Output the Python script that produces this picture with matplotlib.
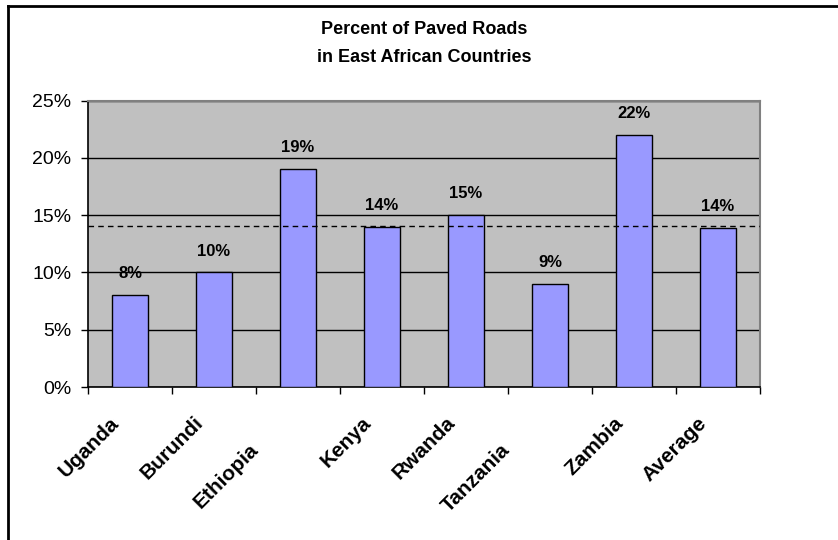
import matplotlib
matplotlib.use('Agg')
import matplotlib.pyplot as plt
import matplotlib.transforms as mtransforms
from matplotlib.lines import Line2D
from matplotlib.ticker import FuncFormatter, MultipleLocator
import numpy as np

plt.rcParams['font.family'] = ['Liberation Sans', 'DejaVu Sans']

countries = ['Uganda', 'Burundi', 'Ethiopia', 'Kenya', 'Rwanda',
             'Tanzania', 'Zambia', 'Average']
paved_pct = [8.0, 10.0, 19.0, 14.0, 15.0, 9.0, 22.0, 13.86]
value_labels = ['8%', '10%', '19%', '14%', '15%', '9%', '22%', '14%']
average_line = 14.05
# labels Excel pushed down to avoid overlap
staggered = ['Ethiopia', 'Tanzania']

fig = plt.figure(figsize=(8.38, 5.4), dpi=100)
ax = fig.add_axes([88 / 838, 1 - 387 / 540, 672 / 838, 286.5 / 540])

ax.set_facecolor('#C0C0C0')
x = np.arange(len(countries))
ax.set_axisbelow(True)
ax.yaxis.grid(True, color='black', linewidth=1)
ax.bar(x, paved_pct, width=0.42, color='#9999FF', edgecolor='black',
       linewidth=1, zorder=3)
ax.axhline(average_line, color='black', linestyle=(0, (4, 3)),
           linewidth=1, zorder=4)

for xi, val, lab in zip(x, paved_pct, value_labels):
    ax.annotate(lab, (xi, val), xytext=(0, 10), textcoords='offset points',
                ha='center', va='bottom', fontsize=12, fontweight='bold')

ax.set_xlim(-0.5, len(countries) - 0.5)
ax.set_ylim(0, 25)
ax.yaxis.set_major_locator(MultipleLocator(5))
ax.yaxis.set_major_formatter(FuncFormatter(lambda v, p: f'{v:.0f}%'))
ax.tick_params(axis='y', direction='out', length=5, width=1,
               labelsize=14, pad=7)
ax.set_xticks(np.arange(len(countries) + 1) - 0.5)
ax.set_xticklabels([])
ax.tick_params(axis='x', direction='out', length=5, width=1)

for side in ['left', 'bottom']:
    ax.spines[side].set_color('black')
    ax.spines[side].set_linewidth(1.2)
for side in ['top', 'right']:
    ax.spines[side].set_color('#808080')
    ax.spines[side].set_linewidth(1.5)

# rotated category labels, placed by hand like Excel does
for xi, name in zip(x, countries):
    if name in staggered:
        dx, dy = -43, -60
    else:
        dx, dy = -14, -33
    off = mtransforms.ScaledTranslation(dx / 100, dy / 100, fig.dpi_scale_trans)
    trans = ax.get_xaxis_transform() + off
    ax.text(xi, 0, name, transform=trans, rotation=45,
            rotation_mode='anchor', ha='right', va='center',
            fontsize=15, fontweight='bold')

fig.text(424 / 838, 1 - 29 / 540, 'Percent of Paved Roads',
         ha='center', va='center', fontsize=13, fontweight='bold')
fig.text(424 / 838, 1 - 57 / 540, 'in East African Countries',
         ha='center', va='center', fontsize=13, fontweight='bold')

# chart frame (cropped on the right and bottom)
fig.add_artist(Line2D([8 / 838, 8 / 838], [0, 1 - 6 / 540],
                      transform=fig.transFigure, color='black', linewidth=2))
fig.add_artist(Line2D([8 / 838, 1], [1 - 6 / 540, 1 - 6 / 540],
                      transform=fig.transFigure, color='black', linewidth=2))

fig.savefig('out.png', dpi=100)
